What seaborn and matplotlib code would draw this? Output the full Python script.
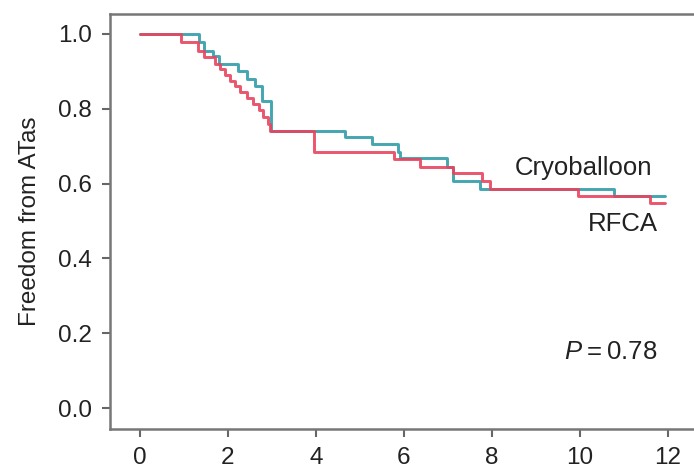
import numpy as np
import pandas as pd
import matplotlib
matplotlib.use("Agg")
import matplotlib.pyplot as plt
import seaborn as sns

# Kaplan-Meier step points (months, survival)
cryo_time = [0, 1.35, 1.45, 1.67, 1.79, 2.24, 2.43, 2.62, 2.77, 2.98,
             4.66, 5.27, 5.88, 5.92, 6.98, 7.12, 7.73, 10.77, 11.93]
cryo_surv = [1.0, 0.978, 0.955, 0.942, 0.920, 0.902, 0.879, 0.861, 0.821, 0.741,
             0.725, 0.705, 0.683, 0.667, 0.645, 0.607, 0.586, 0.567, 0.567]

rfca_time = [0, 0.93, 1.33, 1.45, 1.71, 1.82, 1.94, 2.05, 2.17, 2.28, 2.43,
             2.58, 2.70, 2.81, 2.92, 2.96, 3.97, 5.77, 6.37, 7.12, 7.77,
             7.95, 9.97, 11.6, 11.93]
rfca_surv = [1.0, 0.978, 0.955, 0.937, 0.920, 0.905, 0.890, 0.875, 0.860, 0.845, 0.828,
             0.812, 0.796, 0.778, 0.760, 0.741, 0.685, 0.665, 0.645, 0.627, 0.607,
             0.586, 0.567, 0.549, 0.549]

x_ticks = [0, 2, 4, 6, 8, 10, 12]
y_ticks = [0.0, 0.2, 0.4, 0.6, 0.8, 1.0]

colors = {"Cryoballoon": "#2f9ca8", "RFCA": "#e8435d"}

df = pd.concat([
    pd.DataFrame({"time": cryo_time, "surv": cryo_surv, "group": "Cryoballoon"}),
    pd.DataFrame({"time": rfca_time, "surv": rfca_surv, "group": "RFCA"}),
])

sns.set_style("white")
plt.rcParams["font.family"] = ["Liberation Sans", "DejaVu Sans"]
plt.rcParams["mathtext.fontset"] = "custom"
plt.rcParams["mathtext.it"] = "Liberation Sans:italic"
plt.rcParams["mathtext.rm"] = "Liberation Sans"

fig = plt.figure(figsize=(6.94, 4.68), dpi=100)
ax = fig.add_axes([0.1585, 0.0833, 0.8415, 0.8867])

sns.lineplot(data=df, x="time", y="surv", hue="group", palette=colors,
             estimator=None, sort=False, drawstyle="steps-post",
             linewidth=2.1, alpha=0.9, legend=False, ax=ax)

ax.set_xlim(-0.68, 12.6)
ax.set_ylim(-0.056, 1.053)
ax.set_xticks(x_ticks)
ax.set_xticklabels([str(t) for t in x_ticks])
ax.set_yticks(y_ticks)
ax.set_yticklabels([f"{v:.1f}" for v in y_ticks])

for side in ["left", "bottom", "top"]:
    ax.spines[side].set_color("#777777")
    ax.spines[side].set_linewidth(1.8)
ax.spines["right"].set_visible(False)

ax.tick_params(axis="both", which="major", direction="out", length=6, width=1.5,
               color="#666666", labelsize=17.5, labelcolor="#222222", pad=7)
ax.tick_params(left=True, bottom=True)

ax.set_xlabel("")
ax.set_ylabel("Freedom from ATas", fontsize=17.5, color="#222222", labelpad=12)

ax.text(8.52, 0.642, "Cryoballoon", fontsize=18.5, color="#222222", va="center", ha="left")
ax.text(11.77, 0.492, "RFCA", fontsize=18.5, color="#222222", va="center", ha="right")
ax.text(11.77, 0.15, "$P$\u2009=\u20090.78", fontsize=18.5, color="#222222", va="center", ha="right")

fig.savefig("out.png", dpi=100)
